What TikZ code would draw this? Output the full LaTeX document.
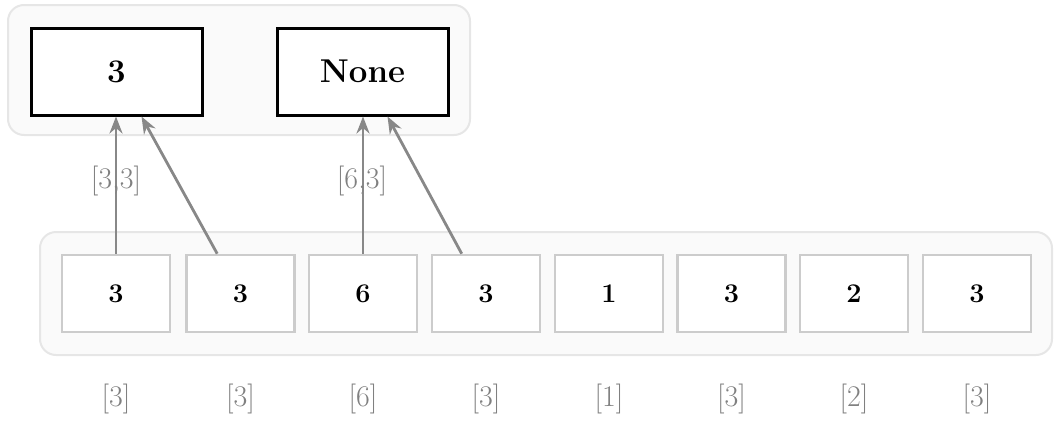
\documentclass[tikz,border=0pt]{standalone}
\usepackage{fontspec}
\usetikzlibrary{arrows.meta,calc}
\definecolor{grpfill}{HTML}{FAFAFA}
\definecolor{grpline}{HTML}{E6E6E6}
\definecolor{cellline}{HTML}{CCCCCC}
\definecolor{soft}{HTML}{888888}
\definecolor{softtext}{HTML}{808080}
\begin{document}
\begin{tikzpicture}[x=1pt,y=-1pt,
  grp/.style={draw=grpline,fill=grpfill,line width=2,rounded corners=16},
  topbox/.style={draw=black,fill=white,line width=3,minimum width=171,minimum height=87,inner sep=0,
    font=\bfseries\fontsize{33}{38}\selectfont},
  cell/.style={draw=cellline,fill=white,line width=2.6,minimum width=108,minimum height=77,inner sep=0,
    font=\bfseries\fontsize{27}{32}\selectfont},
  lbl/.style={text=softtext,inner sep=0,font=\fontsize{30}{36}\selectfont},
  arr/.style={draw=soft,line width=2.8,-{Stealth[length=17,width=13]}}]
\useasboundingbox (0,0) rectangle (1054,423);

% group frames
\draw[grp] (8,5) rectangle (470,135);
\draw[grp] (40,232) rectangle (1052,355);

% upper results
\node[topbox] (t1) at (116.5,71.5) {3};
\node[topbox] (t2) at (362.5,71.5) {None};

% input cells
\foreach \i/\v/\x in {1/3/116,2/3/240.5,3/6/363,4/3/486,5/1/609,6/3/731.5,7/2/854,8/3/977}{
  \node[cell] (c\i) at (\x,293.5) {\v};
  \node[lbl] (l\i) at (\x,399) {[\v]};
}

% pairs feeding each result
\draw[arr] (c1.north) -- (c1.north |- t1.south);
\draw[arr] ($(c2.north west)+(32,0)$) -- ($(t1.south west)+(112,0)$);
\draw[arr] (c3.north) -- (c3.north |- t2.south);
\draw[arr] ($(c4.north west)+(31,0)$) -- ($(t2.south west)+(112,0)$);

\node[lbl] (p1) at (116,181) {[3,3]};
\node[lbl] (p2) at (362,181) {[6,3]};
\end{tikzpicture}
\end{document}
